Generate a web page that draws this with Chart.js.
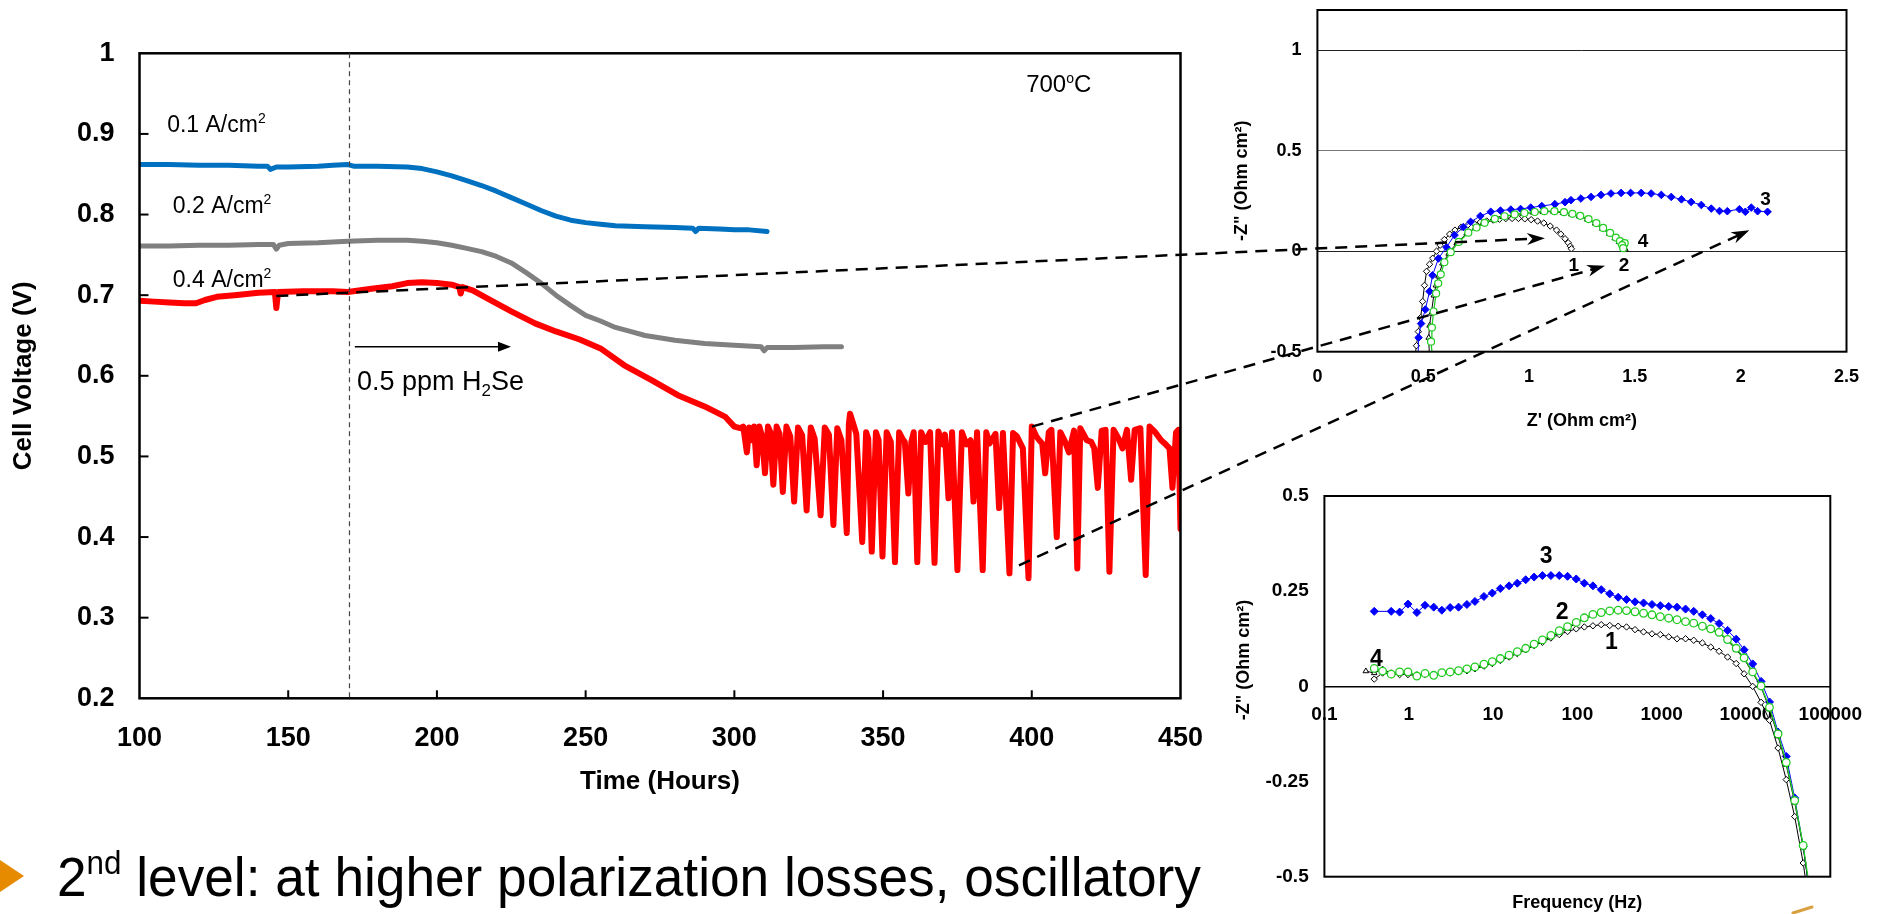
<!DOCTYPE html>
<html><head><meta charset="utf-8">
<script src="https://cdn.jsdelivr.net/npm/chart.js@4.4.1/dist/chart.umd.min.js"></script>
<style>
html,body{margin:0;padding:0;background:#fff;width:1879px;height:914px;overflow:hidden;}
body{position:relative;font-family:'Liberation Sans',Arial,Helvetica,sans-serif;}
canvas{position:absolute;}
#main{left:0;top:0;}
#nyq{left:1225px;top:0;}
#bode{left:1230px;top:470px;}
#overlay{left:0;top:0;pointer-events:none;}
#bullet{position:absolute;left:57px;top:848.6px;font-size:56px;line-height:56px;white-space:nowrap;color:#000;transform:scaleX(0.95);transform-origin:0 0;}
#bullet .sup{font-size:33px;position:relative;top:-22px;}
</style></head>
<body>
<canvas id="main" width="1205" height="820"></canvas>
<canvas id="nyq" width="654" height="440"></canvas>
<canvas id="bode" width="649" height="444"></canvas>
<canvas id="overlay" width="1879" height="914"></canvas>
<div id="bullet">2<span class="sup">nd</span> level: at higher polarization losses, oscillatory</div>
<script>
// ---------------- DATA ----------------
// Main chart: Cell voltage vs time
const mainXTicks = [100,150,200,250,300,350,400,450];
const mainYTicks = [0.2,0.3,0.4,0.5,0.6,0.7,0.8,0.9,1];

const blueT = [100,110,120,130,140,143,144,146,150,160,165,170,172,180,190,195,200,205,210,215,220,225,230,235,240,245,250,255,260,270,280,286,287,288,295,300,305,311];
const blueV = [0.862,0.862,0.861,0.861,0.860,0.860,0.856,0.859,0.859,0.860,0.861,0.862,0.860,0.860,0.859,0.857,0.853,0.848,0.842,0.836,0.829,0.821,0.813,0.805,0.798,0.793,0.790,0.788,0.786,0.785,0.784,0.783,0.779,0.783,0.782,0.781,0.781,0.779];

const grayT = [100,110,120,130,140,145,146,147,150,160,170,180,190,195,200,205,210,215,220,225,230,235,240,245,250,255,260,265,270,280,290,300,309,310,311,320,330,336];
const grayV = [0.761,0.761,0.762,0.762,0.763,0.763,0.757,0.762,0.764,0.765,0.767,0.768,0.768,0.767,0.765,0.762,0.758,0.754,0.748,0.740,0.728,0.715,0.700,0.687,0.675,0.668,0.660,0.655,0.650,0.644,0.640,0.638,0.636,0.631,0.635,0.635,0.636,0.636];

const redT = [100,105,110,115,119,122,126,132,140,145.5,146,146.6,155,165,170,178,185,190,195,200,205,207.5,208,208.6,212,218,225,233,240,248,255,263,272,281,290,297,300,
  302.0,303.0,304.2,305.0,306.0,306.6,307.5,308.4,309.3,310.3,311.3,312.1,313.1,314.2,315.2,316.3,317.5,318.8,320.1,321.4,322.8,324.3,325.7,327.0,329.0,330.4,331.8,333.3,334.6,336.0,337.8,338.5,338.9,340.0,341.0,343.0,344.3,345.0,346.2,347.6,348.5,349.8,351.2,352.6,354.0,355.4,356.5,357.3,358.5,359.5,360.3,361.5,362.8,364.3,365.8,367.3,368.6,370.0,370.8,372.0,373.2,375.0,376.5,378.0,379.4,380.4,381.6,383.5,384.7,385.8,387.8,389.0,390.3,392.5,393.7,395.0,397.0,398.9,400.0,401.5,402.5,403.5,404.5,405.7,406.6,408.4,409.6,411.0,412.5,414.2,415.3,416.3,418.5,420.0,421.0,422.2,423.5,424.8,426.1,427.5,429.2,430.5,432.0,433.4,434.6,436.5,438.3,439.6,441.5,443.5,445.0,446.3,447.3,448.5,449.3,450.0];
const redV = [0.693,0.692,0.691,0.690,0.690,0.694,0.698,0.700,0.703,0.704,0.684,0.704,0.705,0.705,0.704,0.708,0.711,0.715,0.716,0.715,0.713,0.710,0.702,0.710,0.706,0.694,0.680,0.665,0.655,0.645,0.634,0.613,0.595,0.576,0.562,0.549,0.537,
  0.535,0.537,0.505,0.536,0.520,0.537,0.489,0.537,0.525,0.479,0.537,0.530,0.465,0.537,0.528,0.456,0.537,0.525,0.444,0.536,0.526,0.433,0.536,0.522,0.427,0.536,0.527,0.415,0.535,0.520,0.405,0.540,0.553,0.540,0.528,0.394,0.530,0.522,0.382,0.530,0.520,0.376,0.530,0.518,0.369,0.530,0.522,0.518,0.454,0.518,0.530,0.369,0.530,0.518,0.530,0.368,0.531,0.515,0.527,0.448,0.530,0.359,0.530,0.515,0.520,0.444,0.530,0.359,0.530,0.516,0.528,0.436,0.529,0.355,0.529,0.525,0.510,0.349,0.537,0.525,0.520,0.516,0.479,0.530,0.533,0.400,0.530,0.520,0.505,0.532,0.361,0.535,0.520,0.518,0.510,0.461,0.532,0.533,0.357,0.533,0.522,0.510,0.533,0.471,0.533,0.535,0.353,0.537,0.530,0.520,0.515,0.510,0.461,0.530,0.533,0.410];

// Nyquist inset
const nyqXTicks = [0,0.5,1,1.5,2,2.5];
const nyqYTicks = [-0.5,0,0.5,1];
const nyqZ1 = [0.458,0.468,0.477,0.488,0.497,0.506,0.516,0.530,0.545,0.563,0.580,0.600,0.625,0.650,0.680,0.710,0.740,0.770,0.800,0.830,0.860,0.890,0.920,0.950,0.980,1.010,1.040,1.070,1.100,1.130,1.150,1.170,1.185,1.195,1.200];
const nyqY1 = [-0.55,-0.47,-0.40,-0.33,-0.25,-0.17,-0.10,-0.065,-0.035,0.000,0.030,0.058,0.085,0.105,0.120,0.130,0.138,0.145,0.150,0.155,0.159,0.162,0.163,0.163,0.161,0.157,0.150,0.140,0.125,0.105,0.085,0.062,0.042,0.025,0.012];
const nyqZ2 = [0.530,0.526,0.530,0.538,0.550,0.560,0.572,0.591,0.620,0.658,0.705,0.745,0.781,0.830,0.876,0.925,0.970,1.020,1.065,1.115,1.160,1.200,1.236,1.275,1.312,1.345,1.378,1.405,1.425,1.445,1.455];
const nyqY2 = [-0.55,-0.43,-0.37,-0.31,-0.22,-0.17,-0.125,-0.061,-0.012,0.041,0.088,0.115,0.138,0.158,0.171,0.180,0.187,0.192,0.196,0.197,0.191,0.184,0.174,0.158,0.138,0.113,0.088,0.065,0.046,0.025,0.010];
const nyqZ3 = [0.475,0.478,0.490,0.510,0.530,0.544,0.572,0.610,0.648,0.690,0.724,0.770,0.819,0.865,0.914,0.960,1.008,1.060,1.122,1.170,1.198,1.245,1.293,1.340,1.387,1.435,1.480,1.530,1.577,1.625,1.672,1.720,1.766,1.814,1.861,1.900,1.937,1.994,2.022,2.050,2.080,2.127];
const nyqY3 = [-0.55,-0.43,-0.36,-0.29,-0.20,-0.12,-0.036,0.020,0.080,0.120,0.146,0.175,0.196,0.202,0.207,0.210,0.217,0.225,0.234,0.244,0.254,0.262,0.270,0.280,0.287,0.290,0.290,0.290,0.287,0.280,0.270,0.258,0.245,0.230,0.212,0.200,0.199,0.209,0.196,0.217,0.199,0.196];
const nyqZ4 = [0.545,0.537,0.541,0.549,0.561,0.571,0.583,0.600,0.630,0.668,0.713,0.752,0.790,0.838,0.884,0.932,0.978,1.027,1.072,1.120,1.165,1.205,1.242,1.281,1.318,1.350,1.383,1.410,1.430,1.448,1.452,1.440,1.445];
const nyqY4 = [-0.55,-0.45,-0.38,-0.30,-0.21,-0.16,-0.115,-0.055,-0.005,0.046,0.092,0.118,0.141,0.161,0.174,0.183,0.190,0.195,0.199,0.199,0.194,0.186,0.176,0.160,0.140,0.116,0.091,0.068,0.050,0.035,0.040,0.030,0.015];

// Bode inset
const bodeXTicks = [0.1,1,10,100,1000,10000,100000];
const bodeYTicks = [-0.5,-0.25,0,0.25,0.5];
const bodeFreq = [0.31,0.39,0.49,0.62,0.78,0.98,1.25,1.56,1.98,2.47,3.1,3.9,4.9,6.1,7.8,9.8,12.2,15.5,19.4,24.4,30.7,38.5,48.6,61,76.5,97,121,153,192,242,305,383,483,610,768,963,1212,1520,1920,2400,3040,3820,4800,6050,7650,9500,12000,15100,19000,24000,30000,37800,47700,55000];
const bodeY1 = [null,0.019,0.035,0.033,0.031,0.031,0.028,0.031,0.031,0.033,0.035,0.038,0.041,0.046,0.053,0.060,0.068,0.077,0.086,0.096,0.107,0.116,0.127,0.136,0.144,0.151,0.156,0.159,0.162,0.160,0.158,0.156,0.149,0.143,0.138,0.136,0.130,0.125,0.125,0.121,0.114,0.103,0.092,0.077,0.060,0.033,0.000,-0.042,-0.089,-0.162,-0.245,-0.342,-0.464,-0.56];
const bodeY2 = [0.040,0.035,0.045,0.035,0.035,0.034,0.030,0.033,0.031,0.034,0.036,0.039,0.044,0.049,0.056,0.063,0.071,0.080,0.089,0.098,0.109,0.119,0.130,0.142,0.153,0.165,0.177,0.186,0.192,0.196,0.198,0.197,0.194,0.190,0.186,0.181,0.177,0.173,0.168,0.165,0.155,0.149,0.140,0.120,0.096,0.072,0.035,-0.002,-0.060,-0.131,-0.206,-0.305,-0.423,-0.52];
const bodeY3 = [null,0.197,null,0.197,0.195,0.216,0.194,0.213,0.208,0.200,0.207,0.208,0.215,0.223,0.236,0.245,0.257,0.264,0.271,0.280,0.287,0.291,0.291,0.291,0.289,0.282,0.271,0.264,0.254,0.243,0.234,0.228,0.222,0.219,0.215,0.212,0.210,0.208,0.203,0.197,0.188,0.178,0.165,0.147,0.124,0.096,0.059,0.013,-0.041,-0.120,-0.184,-0.293,-0.420,-0.52];
const bodeY4 = [null,0.047,0.040,0.032,0.038,0.038,0.027,0.034,0.029,0.036,0.038,0.041,0.046,0.051,0.058,0.065,0.073,0.082,0.091,0.100,0.111,0.122,0.134,0.146,0.157,0.168,0.180,0.189,0.194,0.198,0.200,0.199,0.196,0.192,0.188,0.183,0.179,0.175,0.170,0.166,0.158,0.151,0.142,0.123,0.100,0.075,0.038,0.001,-0.055,-0.125,-0.200,-0.300,-0.418,-0.51];

// connectors (main chart point -> Nyquist point)
const connFromT = [146, 400, 395.7];
const connFromV = [0.699, 0.537, 0.365];
const connToZ = [1.075, 1.359, 2.041];
const connToY = [0.065, -0.073, 0.104];

// ---------------- CHARTS ----------------
Chart.defaults.font.family = "'Liberation Sans', Arial, Helvetica, sans-serif";
Chart.defaults.color = '#000';
const FONT = "'Liberation Sans', Arial, Helvetica, sans-serif";

function xy(xs, ys){ return xs.map((x,i)=>({x:x, y:ys[i]})); }
function setTicks(arr){ return s => { s.ticks = arr.map(v=>({value:v})); }; }
function fitH(h){ return s => { s.height = h; s.paddingLeft = 0; s.paddingRight = 0; }; }
function fitW(w){ return s => { s.width = w; s.paddingTop = 0; s.paddingBottom = 0; }; }
const common = {responsive:false, animation:false, devicePixelRatio:1, plugins:{legend:{display:false}, tooltip:{enabled:false}}};

function drawTextParts(ctx, parts, x, y){
  let cx = x;
  for (const p of parts){
    ctx.font = (p[3]||'normal') + ' ' + p[1] + 'px ' + FONT;
    ctx.fillText(p[0], cx, y + (p[2]||0));
    cx += ctx.measureText(p[0]).width;
  }
}
function line(ctx, x1,y1,x2,y2){ ctx.beginPath(); ctx.moveTo(x1,y1); ctx.lineTo(x2,y2); ctx.stroke(); }
function arrowHead(ctx, x1,y1,x2,y2,len,half){
  const ang = Math.atan2(y2-y1, x2-x1);
  ctx.beginPath();
  ctx.moveTo(x2,y2);
  ctx.lineTo(x2 - len*Math.cos(ang) + half*Math.sin(ang), y2 - len*Math.sin(ang) - half*Math.cos(ang));
  ctx.lineTo(x2 - 0.7*len*Math.cos(ang), y2 - 0.7*len*Math.sin(ang));
  ctx.lineTo(x2 - len*Math.cos(ang) - half*Math.sin(ang), y2 - len*Math.sin(ang) + half*Math.cos(ang));
  ctx.closePath(); ctx.fill();
}

const mainDecor = {
  id:'mainDecor',
  afterDraw(chart){
    const {ctx, chartArea:a, scales:{x,y}} = chart;
    ctx.save();
    ctx.strokeStyle = '#000'; ctx.fillStyle = '#000';
    ctx.lineWidth = 2.5;
    ctx.strokeRect(a.left, a.top, a.right-a.left, a.bottom-a.top);
    ctx.lineWidth = 2;
    for (const t of mainXTicks){ if (t>100 && t<450){ const p=x.getPixelForValue(t); line(ctx,p,a.bottom,p,a.bottom-8);} }
    for (const t of mainYTicks){ if (t>0.2 && t<1){ const p=y.getPixelForValue(t); line(ctx,a.left,p,a.left+9,p);} }
    const vx = x.getPixelForValue(170.6);
    ctx.strokeStyle = '#444'; ctx.lineWidth = 1.2; ctx.setLineDash([5,4]);
    line(ctx, vx, a.top, vx, a.bottom);
    ctx.setLineDash([]);
    ctx.strokeStyle = '#000'; ctx.lineWidth = 1.5;
    const ax1 = x.getPixelForValue(172.4), ax2 = x.getPixelForValue(224.9), ay = y.getPixelForValue(0.636);
    line(ctx, ax1, ay, ax2-8, ay);
    ctx.beginPath(); ctx.moveTo(ax2, ay); ctx.lineTo(ax2-13, ay-5); ctx.lineTo(ax2-13, ay+5); ctx.closePath(); ctx.fill();
    ctx.textBaseline = 'alphabetic'; ctx.textAlign = 'left';
    drawTextParts(ctx, [['0.1 A/cm',23],['2',14,-9]], x.getPixelForValue(109.3), y.getPixelForValue(0.903));
    drawTextParts(ctx, [['0.2 A/cm',23],['2',14,-9]], x.getPixelForValue(111.2), y.getPixelForValue(0.802));
    drawTextParts(ctx, [['0.4 A/cm',23],['2',14,-9]], x.getPixelForValue(111.2), y.getPixelForValue(0.7105));
    drawTextParts(ctx, [['700',24],['o',14,-9],['C',24]], x.getPixelForValue(398.1), y.getPixelForValue(0.952));
    drawTextParts(ctx, [['0.5 ppm H',27],['2',17,6],['Se',27]], x.getPixelForValue(173.1), y.getPixelForValue(0.582));
    ctx.restore();
  }
};

const mainChart = new Chart(document.getElementById('main'), {
  type:'line',
  data:{datasets:[
    {data:xy(grayT,grayV), borderColor:'#808080', borderWidth:5, pointRadius:0, borderJoinStyle:'round', borderCapStyle:'round', tension:0},
    {data:xy(blueT,blueV), borderColor:'#0070C0', borderWidth:5, pointRadius:0, borderJoinStyle:'round', borderCapStyle:'round', tension:0},
    {data:xy(redT,redV), borderColor:'#FF0000', borderWidth:6, pointRadius:0, borderJoinStyle:'round', borderCapStyle:'round', tension:0}
  ]},
  options:Object.assign({}, common, {
    layout:{padding:{top:53.3, right:24.5, bottom:0, left:0}},
    scales:{
      x:{type:'linear', min:100, max:450, afterBuildTicks:setTicks(mainXTicks), afterFit:fitH(121.7),
         grid:{display:false, drawTicks:false}, border:{display:false},
         ticks:{padding:24, font:{size:27, weight:'bold'}, maxRotation:0, autoSkip:false, callback:v=>String(v)},
         title:{display:true, text:'Time (Hours)', font:{size:26, weight:'bold'}, padding:{top:0, bottom:22.7}}},
      y:{type:'linear', min:0.2, max:1, afterBuildTicks:setTicks(mainYTicks), afterFit:fitW(139.5),
         grid:{display:false, drawTicks:false}, border:{display:false},
         ticks:{padding:25, font:{size:27, weight:'bold'}, autoSkip:false, callback:v=>String(v)},
         title:{display:true, text:'Cell Voltage (V)', font:{size:26, weight:'bold'}, padding:{top:8.4, bottom:0}}}
    }
  }),
  plugins:[mainDecor]
});

function boxPlugin(id, labels){
  return {
    id:id,
    afterDraw(chart){
      const {ctx, chartArea:a, scales:{x,y}} = chart;
      ctx.save();
      ctx.strokeStyle = '#000'; ctx.lineWidth = 2;
      ctx.strokeRect(a.left, a.top, a.right-a.left, a.bottom-a.top);
      ctx.fillStyle = '#000'; ctx.textAlign = 'center'; ctx.textBaseline = 'middle';
      for (const l of labels){
        ctx.font = 'bold ' + l[3] + 'px ' + FONT;
        ctx.fillText(l[0], x.getPixelForValue(l[1]), y.getPixelForValue(l[2]));
      }
      ctx.restore();
    }
  };
}

const nyqChart = new Chart(document.getElementById('nyq'), {
  type:'line',
  data:{datasets:[
    {data:xy(nyqZ4,nyqY4), borderColor:'#22CC22', borderWidth:1.3, pointStyle:'circle', pointRadius:3.5, pointBackgroundColor:'#fff', pointBorderColor:'#22CC22', pointBorderWidth:1.2, tension:0},
    {data:xy(nyqZ2,nyqY2), borderColor:'#000', borderWidth:1, pointStyle:'triangle', pointRadius:3.2, pointBackgroundColor:'#fff', pointBorderColor:'#000', pointBorderWidth:1, tension:0},
    {data:xy(nyqZ3,nyqY3), borderColor:'#0000FF', borderWidth:1, pointStyle:'rectRot', pointRadius:3.8, pointBackgroundColor:'#0000FF', pointBorderColor:'#0000FF', tension:0},
    {data:xy(nyqZ1,nyqY1), borderColor:'#000', borderWidth:1, pointStyle:'rectRot', pointRadius:3.2, pointBackgroundColor:'#fff', pointBorderColor:'#000', pointBorderWidth:1, tension:0}
  ]},
  options:Object.assign({}, common, {
    layout:{padding:{top:10, right:32.5, bottom:0, left:0}},
    scales:{
      x:{type:'linear', min:0, max:2.5, afterBuildTicks:setTicks(nyqXTicks), afterFit:fitH(88.3),
         grid:{display:false, drawTicks:false}, border:{display:false},
         ticks:{padding:14.5, font:{size:18, weight:'bold'}, maxRotation:0, autoSkip:false, callback:v=>String(v)},
         title:{display:true, text:"Z' (Ohm cm²)", font:{size:18, weight:'bold'}, padding:{top:0, bottom:8.6}}},
      y:{type:'linear', min:-0.5, max:1.2, afterBuildTicks:setTicks(nyqYTicks), afterFit:fitW(92.4),
         grid:{drawTicks:false, lineWidth:1, color:c=> (c.tick && c.tick.value===0.5) ? '#777' : '#222'}, border:{display:false},
         ticks:{padding:16, font:{size:18, weight:'bold'}, autoSkip:false, callback:v=>String(v)},
         title:{display:true, text:'-Z" (Ohm cm²)', font:{size:18, weight:'bold'}, padding:{top:5.9, bottom:0}}}
    }
  }),
  plugins:[boxPlugin('nyqBox', [['1',1.212,-0.073,19],['2',1.449,-0.073,19],['3',2.117,0.254,19],['4',1.539,0.046,19]])]
});

const bodeTitles = {
  id:'bodeTitles',
  afterDraw(chart){
    const {ctx, chartArea:a} = chart;
    ctx.save();
    ctx.fillStyle = '#000'; ctx.font = 'bold 18px ' + FONT; ctx.textAlign='center'; ctx.textBaseline='middle';
    ctx.fillText('Frequency (Hz)', (a.left+a.right)/2, a.bottom + 26.3);
    ctx.translate(a.left - 79.9, a.top + 164);
    ctx.rotate(-Math.PI/2);
    ctx.fillText('-Z" (Ohm cm²)', 0, 0);
    ctx.restore();
  }
};

const bodeChart = new Chart(document.getElementById('bode'), {
  type:'line',
  data:{datasets:[
    {data:xy(bodeFreq,bodeY4), borderColor:'#22CC22', borderWidth:1.3, pointStyle:'circle', pointRadius:3.8, pointBackgroundColor:'#fff', pointBorderColor:'#22CC22', pointBorderWidth:1.3, tension:0, spanGaps:true},
    {data:xy(bodeFreq,bodeY2), borderColor:'#000', borderWidth:1, pointStyle:'triangle', pointRadius:3.2, pointBackgroundColor:'#fff', pointBorderColor:'#000', pointBorderWidth:1, tension:0, spanGaps:true},
    {data:xy(bodeFreq,bodeY3), borderColor:'#0000FF', borderWidth:1, pointStyle:'rectRot', pointRadius:4, pointBackgroundColor:'#0000FF', pointBorderColor:'#0000FF', tension:0, spanGaps:true},
    {data:xy(bodeFreq,bodeY1), borderColor:'#000', borderWidth:1, pointStyle:'rectRot', pointRadius:3.2, pointBackgroundColor:'#fff', pointBorderColor:'#000', pointBorderWidth:1, tension:0, spanGaps:true}
  ]},
  options:Object.assign({}, common, {
    layout:{padding:{top:26, right:42.5, bottom:37.3, left:0}},
    scales:{
      x:{type:'logarithmic', position:{y:0}, min:0.1, max:100000, afterBuildTicks:setTicks(bodeXTicks),
         grid:{display:false, drawTicks:false}, border:{display:true, color:'#000', width:1.6},
         ticks:{padding:17, font:{size:19, weight:'bold'}, maxRotation:0, autoSkip:false, callback:v=>String(v)}},
      y:{type:'linear', min:-0.5, max:0.5, afterBuildTicks:setTicks(bodeYTicks), afterFit:fitW(94.4),
         grid:{display:false, drawTicks:false}, border:{display:false},
         ticks:{padding:15.7, font:{size:19, weight:'bold'}, autoSkip:false, callback:v=>String(v)}}
    }
  }),
  plugins:[boxPlugin('bodeBox', [['3',42.6,0.341,23],['2',65.9,0.1935,23],['1',254,0.115,23],['4',0.413,0.070,23]]), bodeTitles]
});

// ---------------- OVERLAY ----------------
(function(){
  const ctx = document.getElementById('overlay').getContext('2d');
  const P = (ch, off, xv, yv) => [off[0] + ch.scales.x.getPixelForValue(xv), off[1] + ch.scales.y.getPixelForValue(yv)];
  ctx.strokeStyle = '#000'; ctx.fillStyle = '#000'; ctx.lineWidth = 2.5;
  for (let i=0;i<connFromT.length;i++){
    const a = P(mainChart, [0,0], connFromT[i], connFromV[i]);
    const b = P(nyqChart, [1225,0], connToZ[i], connToY[i]);
    const ang = Math.atan2(b[1]-a[1], b[0]-a[0]);
    ctx.setLineDash([12,8]);
    line(ctx, a[0], a[1], b[0]-10*Math.cos(ang), b[1]-10*Math.sin(ang));
    ctx.setLineDash([]);
    arrowHead(ctx, a[0], a[1], b[0], b[1], 18, 6);
  }
  ctx.fillStyle = '#E68A00';
  ctx.beginPath(); ctx.moveTo(0,860); ctx.lineTo(24,876); ctx.lineTo(0,892); ctx.closePath(); ctx.fill();
  ctx.strokeStyle = '#D9A040'; ctx.lineWidth = 3; ctx.lineCap = 'round';
  line(ctx, 1793, 913, 1812, 907);
})();
</script>
</body></html>
